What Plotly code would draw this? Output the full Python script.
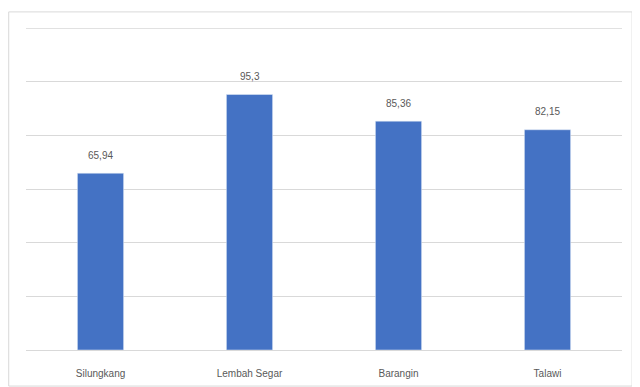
import plotly.graph_objects as go

categories = ["Silungkang", "Lembah Segar", "Barangin", "Talawi"]
values = [65.94, 95.3, 85.36, 82.15]
value_labels = ["65,94", "95,3", "85,36", "82,15"]
y_max = 120

fig = go.Figure(
    go.Bar(
        x=categories,
        y=values,
        marker=dict(color="#4472C4"),
        width=0.31,
        hoverinfo="skip",
    )
)

for cat, val, lab in zip(categories, values, value_labels):
    fig.add_annotation(
        x=cat, y=val, text=lab, showarrow=False,
        yshift=18, font=dict(size=10, color="#595959"),
    )

# top gridline (plotly drops the one sitting on the plot edge)
fig.add_hline(y=y_max, line=dict(color="#d9d9d9", width=1), layer="below")

# outer chart border, like an Excel chart area
fig.add_shape(
    type="rect", xref="paper", yref="paper",
    x0=-0.029, x1=1.017, y0=-0.112, y1=1.05,
    line=dict(color="#d9d9d9", width=1),
)

# page body has an 8px default margin, so margins are shifted to compensate
fig.update_layout(
    width=640,
    height=387,
    margin=dict(l=18, r=26, t=20, b=45),
    paper_bgcolor="white",
    plot_bgcolor="white",
    font=dict(family="Liberation Sans, Arial, sans-serif", size=10, color="#595959"),
    showlegend=False,
)
fig.update_yaxes(
    range=[0, y_max + 0.1], dtick=20, showticklabels=False,
    showgrid=True, gridcolor="#d9d9d9", gridwidth=1, zeroline=False,
)
fig.update_xaxes(
    showline=True, linecolor="#d9d9d9", linewidth=1,
    ticks="", ticklabelstandoff=14, tickfont=dict(size=10, color="#595959"),
)

fig.write_html("out.html")
